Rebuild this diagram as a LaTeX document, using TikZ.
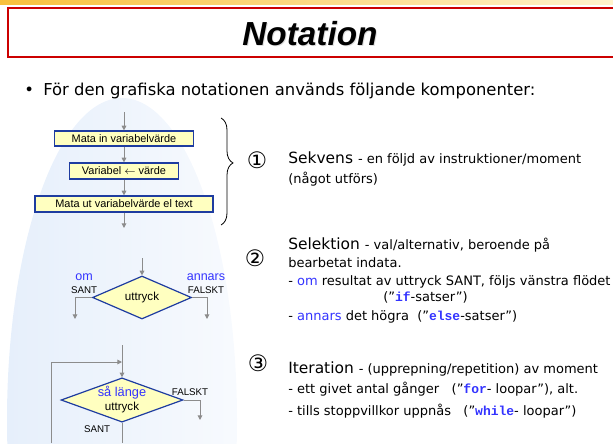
\documentclass[tikz,border=0pt]{standalone}
\usepackage{fontspec}
\setmainfont{DejaVu Sans}
\newfontfamily\arialfont{Liberation Sans}
\newfontfamily\codefont{Liberation Mono}
\usetikzlibrary{shapes.geometric,arrows.meta,decorations.pathreplacing}

\definecolor{boxfill}{RGB}{255,255,192}
\definecolor{boxline}{RGB}{30,60,160}
\definecolor{flowgrey}{RGB}{140,140,140}
\definecolor{keyblue}{RGB}{51,51,255}
\definecolor{titlered}{RGB}{204,0,0}
\definecolor{backblue}{RGB}{230,239,251}

\newcommand\headsize{\fontsize{11.6}{14}\selectfont}
\newcommand\notesize{\fontsize{9.75}{12}\selectfont}
\newcommand\kw[1]{{\codefont\bfseries\color{keyblue}#1}}
\newcommand\qt{\symbol{"22}}

\tikzset{
  stmt/.style={draw=boxline, fill=boxfill, line width=0.9pt, inner sep=0pt,
    font=\arialfont\fontsize{8.2}{10}\selectfont},
  test/.style={diamond, draw=boxline, fill=boxfill, line width=0.9pt, inner sep=0pt},
  flow/.style={draw=flowgrey, line width=0.75pt, -{Triangle[length=3.5pt,width=3.5pt]}},
  plain/.style={draw=flowgrey, line width=0.75pt},
  tag/.style={font=\arialfont\fontsize{7.3}{9}\selectfont, inner sep=0pt},
  bluetag/.style={font=\arialfont\fontsize{9.4}{11}\selectfont, text=keyblue, inner sep=0pt},
  txt/.style={anchor=base west, inner sep=0pt},
  numtag/.style={font=\fontsize{17}{19}\selectfont, inner sep=0pt},
}

\begin{document}
\begin{tikzpicture}[x=0.75pt, y=-0.75pt]
  \useasboundingbox (0,0) rectangle (613,443);
  \clip (0,0) rectangle (613,443);
  % background
  \shade[left color=backblue, right color=backblue!30] (122,420) ellipse [x radius=115, y radius=322];
  \shade[left color={rgb,255:red,248;green,192;blue,60}, right color={rgb,255:red,255;green,243;blue,204}]
    (0,0) rectangle (613,4);
  % title
  \draw[titlered, line width=1.5pt] (8,8) rectangle (625,57);
  \node[text=gray!25, font=\arialfont\bfseries\itshape\fontsize{25}{30}\selectfont] (titleshadow) at (311,35) {Notation};
  \node[font=\arialfont\bfseries\itshape\fontsize{25}{30}\selectfont] (title) at (310,34) {Notation};
  \node[txt, font=\fontsize{12.3}{15}\selectfont] (bullet) at (24,95) {•};
  \node[txt, font=\fontsize{12.3}{15}\selectfont] (intro) at (43,95) {För den grafiska notationen används följande komponenter:};

  % sekvens
  \coordinate (seqtop) at (124,112);
  \node[stmt, minimum width=104.25pt, minimum height=11.25pt] (input) at (124,138.5) {Mata in variabelvärde};
  \node[stmt, minimum width=81.75pt, minimum height=12pt] (assign) at (124,171) {Variabel $\leftarrow$ värde};
  \node[stmt, minimum width=133.5pt, minimum height=12pt] (output) at (124,204) {Mata ut variabelvärde el text};
  \coordinate (seqend) at (124,228);
  \draw[flow] (seqtop) -- (input);
  \draw[flow] (input) -- (assign);
  \draw[flow] (assign) -- (output);
  \draw[flow] (output) -- (seqend);
  \draw[decorate, decoration={brace, amplitude=9pt, aspect=0.42}, line width=0.6pt] (221,118) -- (221,225);

  % selektion
  \coordinate (seltop) at (142,258);
  \node[test, aspect=2.3, minimum width=74.25pt, minimum height=32.25pt,
    font=\arialfont\fontsize{8.7}{10}\selectfont] (select) at (142,297.5) {uttryck};
  \coordinate (selleft) at (75,319);
  \coordinate (selright) at (207,319);
  \draw[flow] (seltop) -- (select);
  \draw[flow] (select.west) -| (selleft);
  \draw[flow] (select.east) -| (selright);
  \node[bluetag] (om) at (84,277) {om};
  \node[tag] (sant1) at (84,290) {SANT};
  \node[bluetag] (annars) at (206,277) {annars};
  \node[tag] (falskt1) at (206,290) {FALSKT};

  % iteration
  \coordinate (looptop) at (122,345);
  \coordinate (loopjoin) at (122,362);
  \coordinate (loopback) at (51,443);
  \coordinate (loopbottom) at (122,443);
  \coordinate (loopexit) at (200,420);
  \node[test, aspect=2.75, minimum width=90.75pt, minimum height=33pt, align=center,
    font=\arialfont\fontsize{8.7}{10.5}\selectfont] (repeat) at (122,400)
    {{\color{keyblue}\fontsize{9.6}{10.5}\selectfont så länge}\\uttryck};
  \draw[flow] (looptop) -- (repeat);
  \draw[flow] (loopback) |- (loopjoin);
  \draw[plain] (repeat.south) -- (loopbottom);
  \draw[flow] (repeat.east) -| (loopexit);
  \node[tag] (falskt2) at (190,392) {FALSKT};
  \node[tag] (sant2) at (97,429) {SANT};

  % texter
  \node[numtag] (num1) at (257,160) {①};
  \node[numtag] (num2) at (255,258) {②};
  \node[numtag] (num3) at (258,363) {③};
  \node[txt] (seqhead) at (288,163) {\headsize Sekvens \notesize- en följd av instruktioner/moment};
  \node[txt, font=\notesize] (seqnote) at (288,183) {(något utförs)};
  \node[txt] (selhead) at (288,249) {\headsize Selektion \notesize- val/alternativ, beroende på};
  \node[txt, font=\notesize] (selnote) at (288,267) {bearbetat indata.};
  \node[txt, font=\notesize] (selif) at (288,285) {- \textcolor{keyblue}{om} resultat av uttryck SANT, följs vänstra flödet};
  \node[txt, font=\notesize] (selifkw) at (383,301) {(\qt\kw{if}-satser\qt)};
  \node[txt, font=\notesize] (selelse) at (288,320) {- \textcolor{keyblue}{annars} det högra\ \ (\qt\kw{else}-satser\qt)};
  \node[txt] (ithead) at (288,373) {\headsize Iteration \notesize- (upprepning/repetition) av moment};
  \node[txt, font=\notesize] (itfor) at (288,393) {- ett givet antal gånger\ \ \ (\qt\kw{for}- loopar\qt), alt.};
  \node[txt, font=\notesize] (itwhile) at (288,415) {- tills stoppvillkor uppnås\ \ \ (\qt\kw{while}- loopar\qt)};
\end{tikzpicture}
\end{document}
